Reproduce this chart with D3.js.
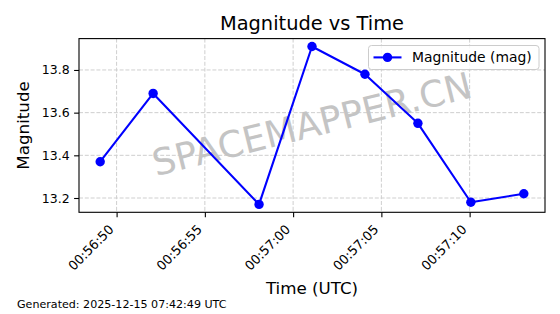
<!DOCTYPE html>
<html>
<head>
<meta charset="utf-8">
<script src="https://cdn.jsdelivr.net/npm/d3@7"></script>
<style>
html,body{margin:0;padding:0;background:#fff;}
svg{display:block;font-family:"DejaVu Sans",sans-serif;}
</style>
</head>
<body>
<svg id="chart" width="560" height="314"></svg>
<script>
const times = ["00:56:49.07","00:56:52.07","00:56:58.07","00:57:01.07","00:57:04.07","00:57:07.07","00:57:10.07","00:57:13.07"];
const mags = [13.37,13.69,13.17,13.91,13.78,13.55,13.18,13.22];
const yTicks = [13.2,13.4,13.6,13.8];
const titleText = "Magnitude vs Time";
const xLabel = "Time (UTC)";
const yLabel = "Magnitude";
const legendLabel = "Magnitude (mag)";
const footer = "Generated: 2025-12-15 07:42:49 UTC";
const watermark = "SPACEMAPPER.CN";

const parse = d3.utcParse("%Y-%m-%dT%H:%M:%S.%L");
const data = times.map((t,i)=>({t: parse("2025-12-15T"+t+"0"), v: mags[i]}));

const svg = d3.select("#chart");
const L=79, R=545, T=38.6, B=212.3;

const tExt = d3.extent(data,d=>d.t);
const tPad = (tExt[1]-tExt[0])*0.05;
const x = d3.scaleUtc().domain([new Date(+tExt[0]-tPad), new Date(+tExt[1]+tPad)]).range([L,R]);
const vExt = d3.extent(mags);
const vPad = (vExt[1]-vExt[0])*0.05;
const y = d3.scaleLinear().domain([vExt[0]-vPad, vExt[1]+vPad]).range([B,T]);

const xTicks = x.ticks(d3.utcSecond.every(5));
const fmt = d3.utcFormat("%H:%M:%S");

// grid
const grid = svg.append("g").attr("stroke","#cfcfcf").attr("stroke-width",1).attr("stroke-dasharray","4,1.8");
xTicks.forEach(t=>grid.append("line").attr("x1",x(t)).attr("x2",x(t)).attr("y1",T).attr("y2",B));
yTicks.forEach(v=>grid.append("line").attr("x1",L).attr("x2",R).attr("y1",y(v)).attr("y2",y(v)));

// watermark
svg.append("text").attr("transform",`translate(${(L+R)/2},${(T+B)/2 - 1}) rotate(-14)`)
  .attr("text-anchor","middle").attr("dominant-baseline","central")
  .attr("font-size",36.5).attr("fill","#c4c4c4").text(watermark);

// axes
const xAxis = d3.axisBottom(x).tickValues(xTicks).tickFormat(fmt).tickSize(4.9).tickPadding(3.5);
const gx = svg.append("g").attr("transform",`translate(0,${B})`).call(xAxis);
gx.select(".domain").remove();
gx.selectAll(".tick line").attr("stroke","#000").attr("stroke-width",1.1);
gx.selectAll(".tick text").attr("font-size",12.9).attr("fill","#000")
  .attr("font-family","DejaVu Sans")
  .attr("text-anchor","end").attr("dy",null).attr("y",null)
  .attr("transform","translate(-2.5,18) rotate(-45)");

const yAxis = d3.axisLeft(y).tickValues(yTicks).tickFormat(d3.format(".1f")).tickSize(4.9).tickPadding(4.5);
const gy = svg.append("g").attr("transform",`translate(${L},0)`).call(yAxis);
gy.select(".domain").remove();
gy.selectAll(".tick line").attr("stroke","#000").attr("stroke-width",1.1);
gy.selectAll(".tick text").attr("font-size",12.5).attr("fill","#000").attr("font-family","DejaVu Sans");

// line + markers
const line = d3.line().x(d=>x(d.t)).y(d=>y(d.v));
svg.append("path").datum(data).attr("d",line).attr("fill","none").attr("stroke","#0000ff").attr("stroke-width",2.1).attr("stroke-linejoin","round");
svg.selectAll("circle.pt").data(data).join("circle").attr("class","pt")
  .attr("cx",d=>x(d.t)).attr("cy",d=>y(d.v)).attr("r",4.7).attr("fill","#0000ff");

// frame
svg.append("rect").attr("x",L).attr("y",T).attr("width",R-L).attr("height",B-T)
  .attr("fill","none").attr("stroke","#000").attr("stroke-width",1.1);

// legend
const lg = svg.append("g");
lg.append("rect").attr("x",368.5).attr("y",45.5).attr("width",170.5).attr("height",24).attr("rx",3)
  .attr("fill","#fff").attr("fill-opacity",0.8).attr("stroke","#cccccc").attr("stroke-width",1);
lg.append("line").attr("x1",373.5).attr("x2",401.5).attr("y1",57.4).attr("y2",57.4).attr("stroke","#0000ff").attr("stroke-width",2.1);
lg.append("circle").attr("cx",387.5).attr("cy",57.4).attr("r",4.7).attr("fill","#0000ff");
lg.append("text").attr("x",412).attr("y",62.3).attr("font-size",13.9).attr("fill","#000").text(legendLabel);

// titles
svg.append("text").attr("x",(L+R)/2).attr("y",30).attr("text-anchor","middle").attr("font-size",19.4).attr("fill","#000").text(titleText);
svg.append("text").attr("x",(L+R)/2).attr("y",294).attr("text-anchor","middle").attr("font-size",16.7).attr("fill","#000").text(xLabel);
svg.append("text").attr("transform",`translate(29,${(T+B)/2}) rotate(-90)`).attr("text-anchor","middle").attr("font-size",16.7).attr("fill","#000").text(yLabel);
svg.append("text").attr("x",17).attr("y",308).attr("font-size",11.1).attr("fill","#000").text(footer);
</script>
</body>
</html>
